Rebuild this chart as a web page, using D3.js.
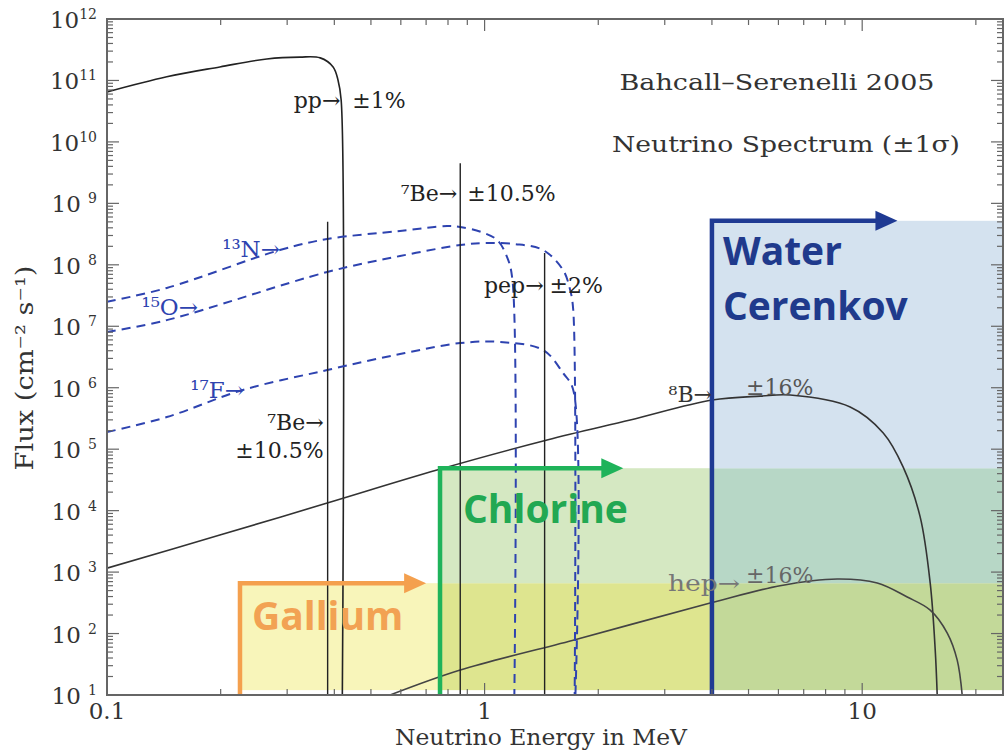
<!DOCTYPE html>
<html>
<head>
<meta charset="utf-8">
<script src="https://cdn.jsdelivr.net/npm/d3@7"></script>
<style>
body { margin:0; background:#fff; }
svg { display:block; }
</style>
</head>
<body>
<script>
// spectra (energy in MeV, flux in cm^-2 s^-1 per MeV)
var ppEnergy = [0.1, 0.144, 0.199, 0.265, 0.324, 0.367, 0.397, 0.409, 0.417, 0.42];
var ppFlux   = [6.5e10, 1.15e11, 1.66e11, 2.24e11, 2.4e11, 2.33e11, 1.66e11, 1.02e11, 4.8e10, 10];

var n13Energy = [0.1, 0.144, 0.287, 0.383, 0.597, 0.796, 0.862, 0.98, 1.079, 1.147, 1.185, 1.199];
var n13Flux   = [2.5e7, 4.2e7, 1.74e8, 2.63e8, 3.55e8, 4.28e8, 4.12e8, 3.42e8, 2.54e8, 1.34e8, 5.7e7, 10];

var o15Energy = [0.1, 0.144, 0.383, 0.597, 0.862, 0.991, 1.2, 1.429, 1.614, 1.685, 1.717, 1.732];
var o15Flux   = [8.05e6, 1.26e7, 7.64e7, 1.39e8, 2.1e8, 2.26e8, 2.18e8, 1.74e8, 8.2e7, 3.9e7, 1.84e7, 10];

var f17Energy = [0.1, 0.144, 0.229, 0.383, 0.597, 0.862, 1.099, 1.429, 1.614, 1.717, 1.74];
var f17Flux   = [1.9e5, 3.33e5, 9.2e5, 1.94e6, 3.53e6, 5.33e6, 5.55e6, 4.11e6, 1.73e6, 9.2e5, 10];

var b8Energy = [0.1, 0.199, 0.383, 0.748, 1.464, 2.43, 4.005, 5.37, 6.446, 9.294, 11.37, 12.84, 14.24, 15.14, 15.61, 15.8];
var b8Flux   = [1.16e3, 4.0e3, 1.33e4, 4.58e4, 1.41e5, 2.98e5, 6.3e5, 7.3e5, 7.6e5, 4.85e5, 1.83e5, 5.1e4, 7.9e3, 6.6e2, 54, 10];

var hepEnergy = [0.562, 0.862, 1.716, 3.957, 6.06, 8.587, 10.96, 13.16, 15.14, 16.8, 17.85, 18.4];
var hepFlux   = [10, 25.5, 78, 313, 600, 771, 664, 393, 241, 102, 37, 10];

// line sources (flux in cm^-2 s^-1)
var lineEnergy = [0.384, 0.862, 1.442];
var lineFlux   = [5.0e8, 4.5e9, 1.55e8];

// detector thresholds
var detectorLabels    = [["Gallium"], ["Chlorine"], ["Water", "Cerenkov"]];
var detectorThreshold = [0.225, 0.762, 4.0];
var detectorTop       = [6.6e2, 4.9e4, 5.2e8];
var detectorArrowEnd  = [0.70, 2.33, 12.4];
var fillBottom = 12;

var xTickValues = [0.1, 1, 10];
var xTickLabels = ["0.1", "1", "10"];
var yTickExponents = [1, 2, 3, 4, 5, 6, 7, 8, 9, 10, 11, 12];

var xMin = 0.1, xMax = 23.6;

var svg = d3.select("body").append("svg")
            .attr("width", 1006)
            .attr("height", 751);

var x = d3.scaleLog().domain([xMin, xMax]).range([107, 1003]);
var y = d3.scaleLog().domain([10, 1e12]).range([695, 19]);

svg.append("clipPath").attr("id", "plot")
   .append("rect")
   .attr("x", x(xMin)).attr("y", y(1e12))
   .attr("width", x(xMax) - x(xMin)).attr("height", y(10) - y(1e12));

// coloured detector bands, one cell per overlap
var detectorLine = ["#f4a04e", "#1fb35a", "#1f3a93"];
var detectorText = ["#f2a253", "#22a852", "#1f3a8c"];
var labelDx = [12, 23, 11];
var labelDy = [47, 55, 44];
var overlapFill = {"0": "#f8f5ba", "01": "#dee58f", "1": "#d5e8c2",
                   "2": "#d4e2ef", "12": "#b7d7c6", "012": "#c3d999"};

var colEdges = detectorThreshold.concat([xMax]);
var rowEdges = [fillBottom].concat(detectorTop);
var bands = svg.append("g");
for (var i = 0; i < 3; i++) {
  for (var j = 0; j < 3; j++) {
    var key = "";
    for (var d = 0; d < 3; d++) {
      if (detectorThreshold[d] <= colEdges[i] && detectorTop[d] >= rowEdges[j + 1]) key += d;
    }
    if (key == "") continue;
    bands.append("rect")
         .attr("x", x(colEdges[i]))
         .attr("y", y(rowEdges[j + 1]))
         .attr("width", x(colEdges[i + 1]) - x(colEdges[i]))
         .attr("height", y(rowEdges[j]) - y(rowEdges[j + 1]))
         .attr("fill", overlapFill[key]);
  }
}

// spectra
var lineFunction = d3.line()
                     .x(function(d) { return x(d[0]); })
                     .y(function(d) { return y(d[1]); })
                     .curve(d3.curveCatmullRom.alpha(0.5));

function drawSpectrum(energy, flux, colour, dashed) {
  var pts = energy.map(function(e, k) { return [e, flux[k]]; });
  svg.append("path")
     .attr("clip-path", "url(#plot)")
     .attr("d", lineFunction(pts))
     .attr("fill", "none")
     .attr("stroke", colour)
     .attr("stroke-width", dashed ? 2 : 1.6)
     .attr("stroke-dasharray", dashed ? "9,6" : null);
}

drawSpectrum(ppEnergy, ppFlux, "#222", false);
drawSpectrum(b8Energy, b8Flux, "#333", false);
drawSpectrum(hepEnergy, hepFlux, "#444", false);
drawSpectrum(n13Energy, n13Flux, "#2e43b0", true);
drawSpectrum(o15Energy, o15Flux, "#2e43b0", true);
drawSpectrum(f17Energy, f17Flux, "#2e43b0", true);

svg.append("g").selectAll("line")
   .data(lineEnergy)
   .enter().append("line")
   .attr("x1", function(d) { return x(d); })
   .attr("x2", function(d) { return x(d); })
   .attr("y1", function(d, k) { return y(lineFlux[k]); })
   .attr("y2", y(10))
   .attr("stroke", "#222")
   .attr("stroke-width", 1.4);

// detector arrows
for (var d = 0; d < 3; d++) {
  var x0 = x(detectorThreshold[d]), yt = y(detectorTop[d]), xe = x(detectorArrowEnd[d]);
  svg.append("path")
     .attr("d", "M" + x0 + "," + y(10) + "V" + yt + "H" + (xe - 14))
     .attr("fill", "none")
     .attr("stroke", detectorLine[d])
     .attr("stroke-width", 4.5);
  svg.append("path")
     .attr("d", "M" + (xe - 22) + "," + (yt - 10) + "L" + xe + "," + yt + "L" + (xe - 22) + "," + (yt + 10) + "Z")
     .attr("fill", detectorLine[d]);
  var lab = svg.append("text")
     .attr("font-family", "'Open Sans', sans-serif")
     .attr("font-weight", "bold")
     .attr("font-size", 39)
     .attr("fill", detectorText[d]);
  detectorLabels[d].forEach(function(s, k) {
    lab.append("tspan").attr("x", x0 + labelDx[d]).attr("y", yt + labelDy[d] + k * 55).text(s);
  });
}

// frame and ticks
var frame = svg.append("g").attr("stroke", "#666").attr("fill", "none");
frame.append("rect")
     .attr("x", x(xMin)).attr("y", y(1e12))
     .attr("width", x(xMax) - x(xMin)).attr("height", y(10) - y(1e12))
     .attr("stroke-width", 2);

var xMinor = [];
for (var e = -1; e <= 1; e++) {
  for (var k = 1; k <= 9; k++) {
    var v = k * Math.pow(10, e);
    if (v >= xMin && v <= xMax) xMinor.push(v);
  }
}
xMinor.forEach(function(v) {
  var len = (xTickValues.indexOf(v) >= 0) ? 12 : 6;
  frame.append("line").attr("x1", x(v)).attr("x2", x(v)).attr("y1", y(10)).attr("y2", y(10) - len).attr("stroke-width", 1.2);
  frame.append("line").attr("x1", x(v)).attr("x2", x(v)).attr("y1", y(1e12)).attr("y2", y(1e12) + len).attr("stroke-width", 1.2);
});

var yMinor = [];
for (var e = 1; e <= 12; e++) {
  for (var k = 1; k <= 9; k++) {
    var v = k * Math.pow(10, e);
    if (v <= 1e12) yMinor.push(v);
  }
}
yMinor.forEach(function(v) {
  var len = (Math.abs(Math.log10(v) - Math.round(Math.log10(v))) < 1e-9) ? 12 : 6;
  frame.append("line").attr("x1", x(xMin)).attr("x2", x(xMin) + len).attr("y1", y(v)).attr("y2", y(v)).attr("stroke-width", 1.2);
  frame.append("line").attr("x1", x(xMax)).attr("x2", x(xMax) - len).attr("y1", y(v)).attr("y2", y(v)).attr("stroke-width", 1.2);
});

var serif = "'DejaVu Serif', serif";

svg.append("g").selectAll("text")
   .data(xTickValues)
   .enter().append("text")
   .attr("x", function(d) { return x(d); })
   .attr("y", 719)
   .attr("text-anchor", "middle")
   .attr("font-family", serif)
   .attr("font-size", 23)
   .attr("fill", "#333")
   .text(function(d, k) { return xTickLabels[k]; });

var yLabels = svg.append("g").selectAll("text")
   .data(yTickExponents)
   .enter().append("text")
   .attr("x", 97)
   .attr("y", function(d) { return y(Math.pow(10, d)) + 9; })
   .attr("text-anchor", "end")
   .attr("font-family", serif)
   .attr("font-size", 23)
   .attr("fill", "#333");
yLabels.append("tspan").text(function(d) { return d < 10 ? "10 " : "10"; });
yLabels.append("tspan").attr("dy", -9).attr("font-size", 14).text(function(d) { return d; });

svg.append("text")
   .attr("x", 541).attr("y", 745)
   .attr("text-anchor", "middle")
   .attr("font-family", serif)
   .attr("font-size", 23)
   .attr("fill", "#333")
   .attr("textLength", 292)
   .attr("lengthAdjust", "spacingAndGlyphs")
   .text("Neutrino Energy in MeV");

svg.append("text")
   .attr("transform", "translate(33,368) rotate(-90)")
   .attr("text-anchor", "middle")
   .attr("font-family", serif)
   .attr("font-size", 24)
   .attr("fill", "#333")
   .attr("textLength", 205)
   .attr("lengthAdjust", "spacingAndGlyphs")
   .text("Flux (cm\u207B\u00B2 s\u207B\u00B9)");

// annotations
function note(xp, yp, s, anchor, colour, size, len) {
  svg.append("text")
     .attr("x", xp).attr("y", yp)
     .attr("text-anchor", anchor || "start")
     .attr("font-family", serif)
     .attr("font-size", size || 22)
     .attr("fill", colour || "#222")
     .attr("textLength", len || null)
     .attr("lengthAdjust", len ? "spacingAndGlyphs" : null)
     .text(s);
}

note(x(0.42) - 2, 108, "pp\u2192", "end");
note(x(0.42) + 10, 108, "\u00B11%");
note(x(0.862) - 3, 201, "\u2077Be\u2192", "end");
note(x(0.862) + 7, 201, "\u00B110.5%");
note(x(0.384) - 4, 430, "\u2077Be\u2192", "end");
note(x(0.384) - 4, 458, "\u00B110.5%", "end");
note(x(1.442) - 1, 293, "pep\u2192", "end");
note(x(1.442) + 5, 293, "\u00B12%");
note(280, 257, "\u00B9\u00B3N\u2192", "end", "#2e43b0", 23);
note(198, 315, "\u00B9\u2075O\u2192", "end", "#2e43b0", 23);
note(244, 398, "\u00B9\u2077F\u2192", "end", "#2e43b0", 23);
note(712, 402, "\u2078B\u2192", "end", "#333");
note(746, 395, "\u00B116%", "start", "#555");
note(740, 591, "hep\u2192", "end", "#777", 22, 72);
note(746, 583, "\u00B116%", "start", "#666");
note(777, 90, "Bahcall\u2013Serenelli 2005", "middle", "#333", 22, 315);
note(786, 152, "Neutrino Spectrum (\u00B11\u03C3)", "middle", "#333", 22, 348);
</script>
</body>
</html>
